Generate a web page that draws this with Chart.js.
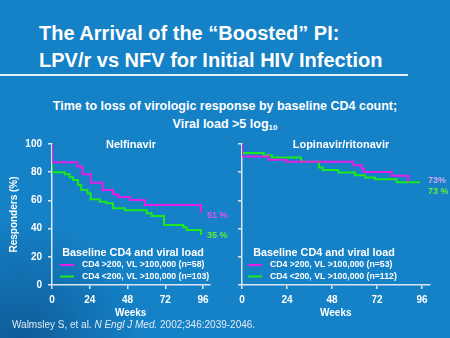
<!DOCTYPE html>
<html>
<head>
<meta charset="utf-8">
<script src="https://cdn.jsdelivr.net/npm/chart.js@4.4.1/dist/chart.umd.min.js"></script>
<style>
    html, body { margin: 0; padding: 0; }
    body {
        width: 450px; height: 338px; overflow: hidden; position: relative;
        background: #1581c6;
        font-family: "Liberation Sans", Arial, sans-serif;
        color: #fff;
    }
    .deco {
        position: absolute; left: 0; bottom: 0; width: 140px; height: 120px;
        background: radial-gradient(ellipse at 15% 100%, rgba(10, 60, 115, 0.55), rgba(10, 60, 115, 0) 70%);
    }
    .title { position: absolute; left: 39px; top: 20px; font-size: 20px; font-weight: bold; line-height: 27px; white-space: nowrap; }
    .rule { position: absolute; left: 0; top: 74px; width: 408px; height: 2px; background: #e6eef7; }
    .subtitle { position: absolute; left: 0; top: 97px; width: 450px; text-align: center; font-size: 12.5px; font-weight: bold; line-height: 18px; }
    .subtitle sub { font-size: 8px; vertical-align: -2px; }
    .cite { position: absolute; left: 12px; top: 319px; font-size: 10px; color: #e2eaf3; white-space: nowrap; }
    .panel { position: absolute; top: 130px; }
</style>
</head>
<body>
<div class="deco"></div>
<div class="title">The Arrival of the “Boosted” PI:<br>LPV/r vs NFV for Initial HIV Infection</div>
<div class="rule"></div>
<div class="subtitle">Time to loss of virologic response by baseline CD4 count;<br>Viral load &gt;5 log<sub>10</sub></div>
<div class="panel" style="left:0"><canvas id="nfv-chart" width="232" height="195"></canvas></div>
<div class="panel" style="left:226px"><canvas id="lpv-chart" width="224" height="195"></canvas></div>
<div class="cite">Walmsley S, et al. <i>N Engl J Med.</i> 2002;346:2039-2046.</div>

<script>
// Axis ticks
const weekTicks = [0, 24, 48, 72, 96];
const responderTicks = [0, 20, 40, 60, 80, 100];

// Nelfinavir arm (weeks where the curve steps, % responders after the step)
const nfvHighWeeks = [0, 0, 16.1, 19.3, 24.6, 32, 38.8, 42, 49.6, 59.1, 94.7];
const nfvHighPct   = [100, 87, 84, 78.5, 72.5, 67.4, 64.3, 62.5, 60.3, 56.7, 51.3];
const nfvLowWeeks  = [0, 0, 8.1, 11.2, 13.4, 16.5, 18.6, 22.5, 24.6, 30.3, 34.5, 38.8, 46.2, 60.2, 63.4, 71.2, 83.5, 85.6, 94.7];
const nfvLowPct    = [100, 80, 78.5, 76.4, 74.5, 70.9, 67.4, 65, 60.8, 59.1, 57.9, 54.4, 53, 50.9, 48.9, 42.6, 41, 39, 35.5];

// Lopinavir/ritonavir arm
const lpvHighWeeks = [0, 0, 14.2, 23.6, 59.4, 63.8, 65, 79.8, 88.7];
const lpvHighPct   = [100, 91.2, 88.8, 87.4, 85, 82.5, 80.2, 77.4, 73.1];
const lpvLowWeeks  = [0, 0, 11.5, 16, 31.5, 41, 43, 51.4, 60.3, 65.6, 70.9, 82.5, 94.9];
const lpvLowPct    = [100, 93.6, 92.1, 90.5, 87.4, 83.3, 81.6, 79.8, 77.9, 76.2, 75, 72.8, 72.8];

// Labels
const nfvSeriesLabels = ['CD4 >200, VL >100,000 (n=58)', 'CD4 <200, VL >100,000 (n=103)'];
const lpvSeriesLabels = ['CD4 >200, VL >100,000 (n=53)', 'CD4 <200, VL >100,000 (n=112)'];
const nfvEndLabels = ['51 %', '35 %'];
const lpvEndLabels = ['73%', '73 %'];

const FONT = '"Liberation Sans", Arial, sans-serif';
const axisColor = '#dde7f2';
const magenta = '#e61ee8';
const green = '#1ee81e';

function toPoints(weeks, pct) {
    return weeks.map((w, i) => ({ x: w, y: pct[i] }));
}

/**
 * Draws the panel heading, end-of-curve percentages and the legend box
 */
const panelNotes = {
    id: 'panelNotes',
    afterDatasetsDraw(chart, args, opts) {
        const { ctx, scales } = chart;
        ctx.save();

        // Panel heading
        ctx.fillStyle = '#fff';
        ctx.font = `bold 11px ${FONT}`;
        ctx.textAlign = 'center';
        ctx.textBaseline = 'middle';
        ctx.fillText(opts.heading, opts.headingX, 15);

        // End-of-curve percentages
        ctx.font = `bold 9px ${FONT}`;
        ctx.textAlign = 'left';
        chart.data.datasets.forEach((ds, i) => {
            ctx.fillStyle = opts.endColors[i];
            ctx.fillText(opts.endLabels[i], scales.x.getPixelForValue(96) + opts.endOffset, scales.y.getPixelForValue(opts.endAt[i]));
        });

        // Legend
        ctx.fillStyle = '#fff';
        ctx.font = `bold 10.8px ${FONT}`;
        ctx.textAlign = 'center';
        ctx.fillText('Baseline CD4 and viral load', opts.legendTitleX, 123);
        ctx.font = `bold 8.7px ${FONT}`;
        ctx.textAlign = 'left';
        chart.data.datasets.forEach((ds, i) => {
            const y = 135 + i * 11.5;
            ctx.strokeStyle = ds.borderColor;
            ctx.lineWidth = 2;
            ctx.beginPath();
            ctx.moveTo(opts.legendLineX, y);
            ctx.lineTo(opts.legendLineX + 14, y);
            ctx.stroke();
            ctx.fillStyle = '#fff';
            ctx.fillText(ds.label, opts.legendLineX + 22, y);
        });
        ctx.restore();
    }
};

function buildChart(canvasId, datasets, yAxisWidth, showYLabels, notes, rightPad) {
    return new Chart(document.getElementById(canvasId), {
        type: 'line',
        data: { datasets },
        options: {
            responsive: false,
            animation: false,
            layout: { padding: { top: 14, right: rightPad, left: 0, bottom: 0 } },
            elements: { point: { radius: 0 } },
            plugins: {
                legend: { display: false },
                tooltip: { enabled: false },
                panelNotes: notes
            },
            scales: {
                x: {
                    type: 'linear', min: 0, max: 100,
                    afterBuildTicks: s => { s.ticks = weekTicks.map(v => ({ value: v })); },
                    afterFit: s => { s.height = 40; },
                    border: { color: axisColor, width: 1.5 },
                    grid: { drawOnChartArea: false, tickLength: 4, color: axisColor, lineWidth: 1.5 },
                    ticks: { color: '#fff', font: { family: FONT, size: 10, weight: 'bold' }, padding: 5, maxRotation: 0, autoSkip: false },
                    title: { display: true, text: 'Weeks', color: '#fff', font: { family: FONT, size: 10, weight: 'bold' }, padding: { top: 0, bottom: 6 } }
                },
                y: {
                    min: 0, max: 100,
                    afterBuildTicks: s => { s.ticks = responderTicks.map(v => ({ value: v })); },
                    afterFit: s => { s.width = yAxisWidth; },
                    border: { color: axisColor, width: 1.5 },
                    grid: { drawOnChartArea: false, tickLength: 4, color: axisColor, lineWidth: 1.5 },
                    ticks: { display: showYLabels, color: '#fff', font: { family: FONT, size: 10, weight: 'bold' }, padding: 6 },
                    title: { display: showYLabels, text: 'Responders (%)', color: '#fff', font: { family: FONT, size: 10, weight: 'bold' }, padding: { top: 8, bottom: 0 } }
                }
            }
        },
        plugins: [panelNotes]
    });
}

function stepSeries(label, color, weeks, pct) {
    return {
        label,
        data: toPoints(weeks, pct),
        borderColor: color,
        backgroundColor: color,
        borderWidth: 2,
        stepped: 'before',
        fill: false
    };
}

buildChart('nfv-chart', [
    stepSeries(nfvSeriesLabels[0], magenta, nfvHighWeeks, nfvHighPct),
    stepSeries(nfvSeriesLabels[1], green, nfvLowWeeks, nfvLowPct)
], 52, true, {
    heading: 'Nelfinavir', headingX: 131,
    endLabels: nfvEndLabels, endAt: [49.6, 34.8], endColors: ['#f04cf0', '#66ee3a'], endOffset: 4,
    legendTitleX: 133, legendLineX: 60
}, 22.7);

buildChart('lpv-chart', [
    stepSeries(lpvSeriesLabels[0], magenta, lpvHighWeeks, lpvHighPct),
    stepSeries(lpvSeriesLabels[1], green, lpvLowWeeks, lpvLowPct)
], 16, false, {
    heading: 'Lopinavir/ritonavir', headingX: 115,
    endLabels: lpvEndLabels, endAt: [73.8, 66.4], endColors: ['#d7a8f2', '#66ee3a'], endOffset: 6,
    legendTitleX: 98, legendLineX: 22
}, 20.5);
</script>
</body>
</html>
